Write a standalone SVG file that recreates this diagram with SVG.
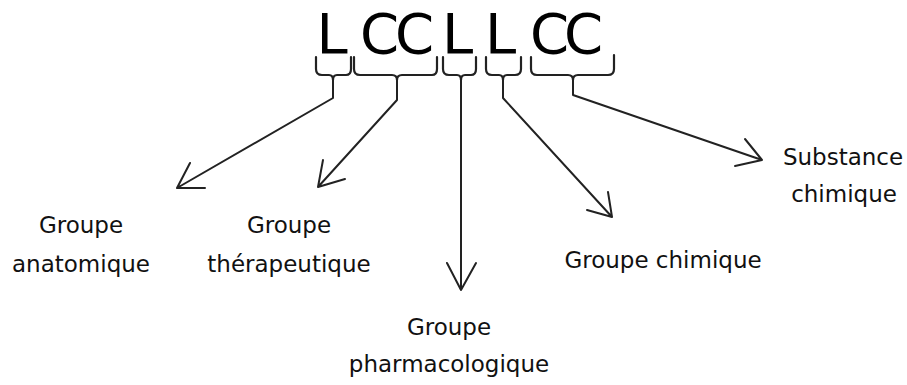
<svg xmlns="http://www.w3.org/2000/svg" width="907" height="385" viewBox="0 0 907 385">
<style>
.big{font-family:"DejaVu Sans",sans-serif;font-size:56px;fill:#000}
.lbl{font-family:"DejaVu Sans",sans-serif;font-size:23px;fill:#111;text-anchor:middle}
.br{fill:none;stroke:#222;stroke-width:2.2;stroke-linejoin:round;stroke-linecap:round}
.ar{fill:none;stroke:#222;stroke-width:2;stroke-linecap:round;stroke-linejoin:round}
</style>
<g id="code">
<text class="big" x="316.5" y="53">L</text>
<text class="big" x="360" y="53" letter-spacing="-4">CC</text>
<text class="big" x="442" y="53">L</text>
<text class="big" x="485" y="53">L</text>
<text class="big" x="530" y="53" letter-spacing="-5">CC</text>
</g>
<g id="braces">
<path class="br" d="M316,57 V69 Q316,75 322,75 H329 Q333,75 333,80 Q333,75 337,75 H346 Q351,75 351,69 V57"/>
<path class="br" d="M354,57 V69 Q354,75 360,75 H392 Q397,75 397,80 Q397,75 402,75 H432 Q437,75 437,69 V57"/>
<path class="br" d="M443,57 V69 Q443,75 449,75 H457 Q461,75 461,80 Q461,75 465,75 H471 Q476,75 476,69 V57"/>
<path class="br" d="M486,57 V69 Q486,75 492,75 H499 Q503,75 503,80 Q503,75 507,75 H515 Q521,75 521,69 V57"/>
<path class="br" d="M531,57 V69 Q531,75 537,75 H568 Q573,75 573,80 Q573,75 578,75 H608 Q614,75 614,69 V55"/>
</g>
<g id="connectors">
<path class="ar" d="M333,78 V98 L177,188 M190,163 L177,188 L205,188"/>
<path class="ar" d="M397,78 V100 L318,187 M323,160 L318,187 L345,179"/>
<path class="ar" d="M461,78 V290 M447,263 L461,290 L476,263"/>
<path class="ar" d="M503,78 V98 L612,217 M608,192 L612,217 L587,210"/>
<path class="ar" d="M573,78 V95 L762,160 M745,139 L762,160 L735,166"/>
</g>
<g id="n-anatomique">
<text class="lbl" x="81" y="233">Groupe</text>
<text class="lbl" x="81" y="272">anatomique</text>
</g>
<g id="n-therapeutique">
<text class="lbl" x="289" y="233">Groupe</text>
<text class="lbl" x="289" y="272">thérapeutique</text>
</g>
<g id="n-pharmacologique">
<text class="lbl" x="449" y="335">Groupe</text>
<text class="lbl" x="449" y="372">pharmacologique</text>
</g>
<g id="n-chimique">
<text class="lbl" x="663" y="268">Groupe chimique</text>
</g>
<g id="n-substance">
<text class="lbl" x="843" y="165">Substance</text>
<text class="lbl" x="844" y="202">chimique</text>
</g>
</svg>
